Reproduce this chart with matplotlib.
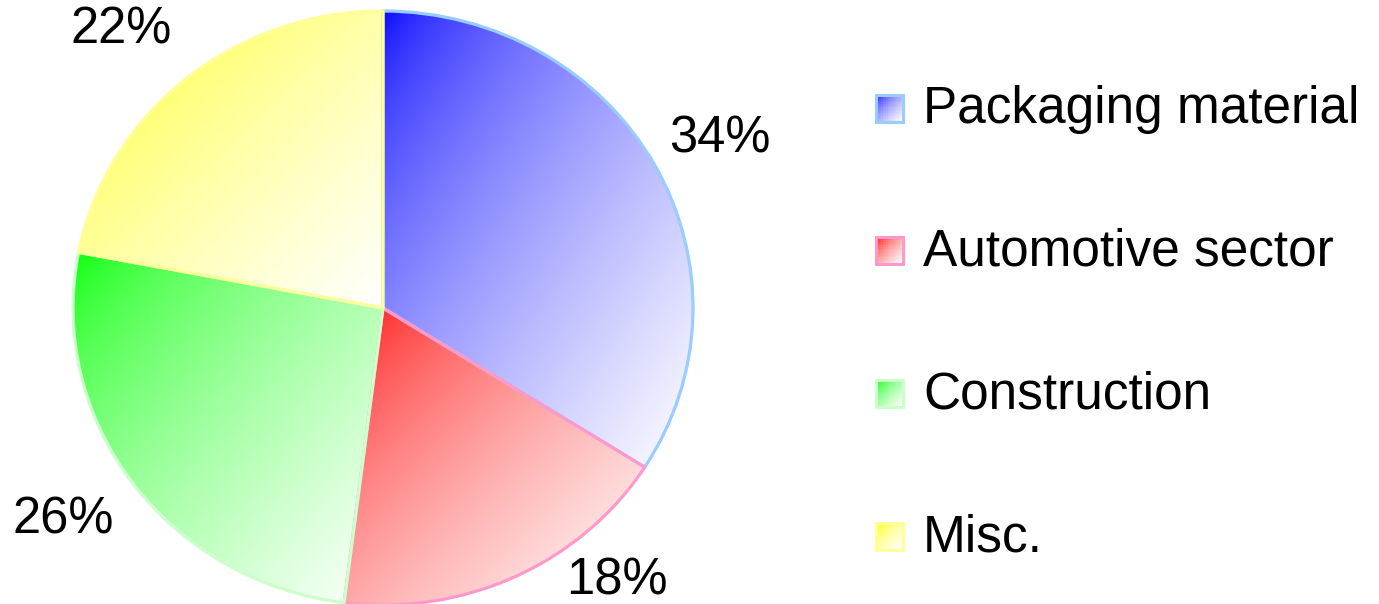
import matplotlib.pyplot as plt
import numpy as np
from matplotlib.colors import to_rgb
from matplotlib.patches import Rectangle

# Shares of the market by sector
categories = ['Packaging material', 'Automotive sector', 'Construction', 'Misc.']
shares = [34, 18, 26, 22]
base_colors = ['#0000ff', '#ff0000', '#00ff00', '#ffff00']
edge_colors = ['#99ccff', '#ff99cc', '#ccffcc', '#ffff99']

# where each percentage sits (baseline centre, pie units)
label_xy = [(1.087, 0.525), (0.755, -0.963), (-1.032, -0.758), (-0.845, 0.889)]

plt.rcParams['font.family'] = ['Liberation Sans', 'DejaVu Sans']

W, H = 1379, 604
fig = plt.figure(figsize=(W / 100, H / 100), dpi=100)


def gradient(color, n=256, gamma=0.6):
    """Diagonal fade from the full colour (top left) to white (bottom right)."""
    rgb = np.array(to_rgb(color))
    u = np.linspace(0, 1, n)
    t = ((u[None, :] + u[:, None]) / 2) ** gamma
    return rgb[None, None, :] * (1 - t[..., None]) + t[..., None]


# pie itself
ax = fig.add_axes([73 / W, (H - 605) / H, 620 / W, 594 / H])
wedges, texts, autotexts = ax.pie(
    shares, startangle=90, counterclock=False,
    autopct=lambda p: f'{p:.0f}%', pctdistance=1.25,
    textprops={'fontsize': 36.5, 'color': 'black'},
    wedgeprops={'linewidth': 2.3},
)
for w, c, ec in zip(wedges, base_colors, edge_colors):
    w.set_facecolor('none')
    w.set_edgecolor(ec)
    w.set_joinstyle('round')
    bb = w.get_path().get_extents()
    im = ax.imshow(gradient(c), extent=(bb.x0, bb.x1, bb.y0, bb.y1),
                   origin='upper', aspect='auto', interpolation='bilinear', zorder=0)
    im.set_clip_path(w)

for t, xy in zip(autotexts, label_xy):
    t.set_position(xy)
    t.set_va('baseline')
    t.set_ha('center')

ax.set_aspect('auto')
ax.set_xlim(-1, 1)
ax.set_ylim(-1, 1)
ax.axis('off')

# legend drawn in pixel coordinates
lg = fig.add_axes([0, 0, 1, 1])
lg.set_xlim(0, W)
lg.set_ylim(H, 0)
lg.axis('off')
box = 27
for i, (name, c, ec) in enumerate(zip(categories, base_colors, edge_colors)):
    yc = 108 + i * 142.7
    x0, y0 = 876, yc - box / 2
    lg.imshow(gradient(c, 16), extent=(x0, x0 + box, y0 + box, y0),
              origin='upper', aspect='auto', interpolation='nearest', zorder=1)
    lg.add_patch(Rectangle((x0, y0), box, box, facecolor='none',
                           edgecolor=ec, linewidth=2.2, zorder=2))
    lg.text(923, yc + 15, name, fontsize=37, va='baseline', ha='left', color='black')
lg.set_xlim(0, W)
lg.set_ylim(H, 0)

fig.savefig('out.png', dpi=100)
